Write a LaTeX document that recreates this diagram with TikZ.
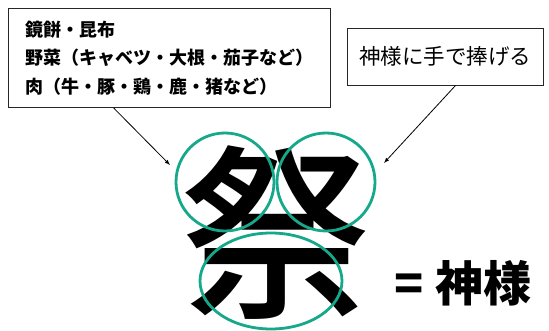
\documentclass[tikz,border=0pt]{standalone}
\usepackage{fontspec}
\newfontfamily\jpfont{Noto Sans CJK JP}
\newfontfamily\jpmedium{Noto Sans CJK JP Medium}
\usetikzlibrary{shapes.geometric}
\definecolor{ringteal}{RGB}{22,168,138}
\tikzset{
  notebox/.style={draw=black!85, line width=.8pt},
  partring/.style={draw=ringteal, line width=2.8pt},
}
\begin{document}
\begin{tikzpicture}[>=latex, x=1pt, y=-1pt]
\useasboundingbox (0,0) rectangle (549,331);
% boxes
\node[notebox, inner xsep=17pt, minimum height=99pt, align=left,
      font=\jpfont\bfseries\fontsize{18pt}{28.5pt}\selectfont] (food) at (169,58)
      {鏡餅・昆布\\野菜（キャベツ・大根・茄子など）\\肉（牛・豚・鶏・鹿・猪など）};
\node[notebox, minimum width=196pt, minimum height=57pt,
      font=\jpfont\fontsize{21.5pt}{24pt}\selectfont] (offer) at (445,56.5) {神様に手で捧げる};
% the character and its parts
\node[inner sep=0pt, font=\jpmedium\fontsize{187pt}{187pt}\selectfont] (matsuri) at (276,233) {祭};
\node[partring, circle, minimum size=98pt] (moon) at (225,182) {};
\node[partring, circle, minimum size=98pt] (hand) at (326,182) {};
\node[partring, ellipse, minimum width=142pt, minimum height=96pt] (altar) at (271,281) {};
\node[font=\jpfont\bfseries\fontsize{48pt}{48pt}\selectfont] (kami) at (463,283) {= 神様};
% arrows
\coordinate (la) at (170,165);
\coordinate (ra) at (384,163);
\draw[->, line width=.8pt] ([xshift=106pt]food.south west) -- (la);
\draw[->, line width=.8pt] ([xshift=109pt]offer.south west) -- (ra);
\end{tikzpicture}
\end{document}
